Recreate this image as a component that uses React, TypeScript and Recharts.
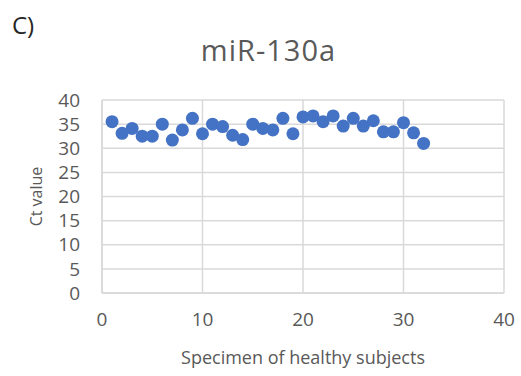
import React from "react";
import {
  ScatterChart,
  Scatter,
  XAxis,
  YAxis,
  CartesianGrid,
  Label,
} from "recharts";

// Specimen numbers of the healthy subjects
const specimens = [
  1, 2, 3, 4, 5, 6, 7, 8, 9, 10, 11, 12, 13, 14, 15, 16,
  17, 18, 19, 20, 21, 22, 23, 24, 25, 26, 27, 28, 29, 30, 31, 32,
];

// miR-130a Ct values per specimen
const ctValues = [
  35.5, 33.1, 34.1, 32.5, 32.5, 35.0, 31.7, 33.8, 36.2, 33.0, 35.0, 34.5,
  32.7, 31.8, 35.0, 34.1, 33.8, 36.2, 33.0, 36.5, 36.7, 35.5, 36.7, 34.6,
  36.2, 34.6, 35.7, 33.4, 33.4, 35.3, 33.2, 31.0,
];

const xTicks = [0, 10, 20, 30, 40];
const yTicks = [0, 5, 10, 15, 20, 25, 30, 35, 40];

const panelLetter = "C)";
const chartTitle = "miR-130a";
const xTitle = "Specimen of healthy subjects";
const yTitle = "Ct value";

const points = specimens.map((s, i) => ({ specimen: s, ct: ctValues[i] }));

const FONT = "'Open Sans', sans-serif";
const TEXT_GRAY = "#595959";
const GRID = "#d9d9d9";
const BLUE = "#4472C4";

// Filled round marker used for every specimen
const Dot = (props: any) => (
  <circle cx={props.cx} cy={props.cy} r={6.5} fill={BLUE} />
);

export default function App() {
  return (
    <div
      style={{
        position: "absolute",
        left: 0,
        top: 0,
        width: 521,
        height: 376,
        background: "#ffffff",
        fontFamily: FONT,
      }}
    >
      <div
        style={{
          position: "absolute",
          left: 12,
          top: 8,
          fontSize: 24,
          lineHeight: "34px",
          color: "#262626",
        }}
      >
        {panelLetter}
      </div>
      <div
        style={{
          position: "absolute",
          left: 0,
          width: 537,
          top: 30,
          textAlign: "center",
          fontSize: 29,
          lineHeight: "40px",
          letterSpacing: 1,
          color: TEXT_GRAY,
        }}
      >
        {chartTitle}
      </div>
      <ScatterChart
        width={521}
        height={376}
        margin={{ top: 100, right: 17, bottom: 23, left: 0 }}
        style={{ position: "absolute", left: 0, top: 0 }}
      >
        <CartesianGrid stroke={GRID} strokeWidth={1.5} />
        <XAxis
          type="number"
          dataKey="specimen"
          domain={[0, 40]}
          ticks={xTicks}
          interval={0}
          height={60}
          tickLine={false}
          axisLine={{ stroke: GRID, strokeWidth: 1.5 }}
          tickMargin={14}
          tick={{ fill: TEXT_GRAY, fontSize: 19, fontFamily: FONT }}
        >
          <Label
            content={({ viewBox }: any) => (
              <text
                x={viewBox.x + viewBox.width / 2}
                y={viewBox.y + 71}
                textAnchor="middle"
                fill={TEXT_GRAY}
                fontSize={18}
                fontFamily={FONT}
              >
                {xTitle}
              </text>
            )}
          />
        </XAxis>
        <YAxis
          type="number"
          dataKey="ct"
          domain={[0, 40]}
          ticks={yTicks}
          interval={0}
          width={102}
          tickLine={false}
          axisLine={{ stroke: GRID, strokeWidth: 1.5 }}
          tickMargin={16}
          tick={{ fill: TEXT_GRAY, fontSize: 19, fontFamily: FONT }}
        >
          <Label
            content={({ viewBox }: any) => {
              const cx = 36;
              const cy = viewBox.y + viewBox.height / 2;
              return (
                <text
                  x={cx}
                  y={cy}
                  textAnchor="middle"
                  dominantBaseline="central"
                  transform={`rotate(-90, ${cx}, ${cy})`}
                  fill={TEXT_GRAY}
                  fontSize={16}
                  fontFamily={FONT}
                >
                  {yTitle}
                </text>
              );
            }}
          />
        </YAxis>
        <Scatter
          data={points}
          fill={BLUE}
          shape={Dot}
          isAnimationActive={false}
        />
      </ScatterChart>
    </div>
  );
}
